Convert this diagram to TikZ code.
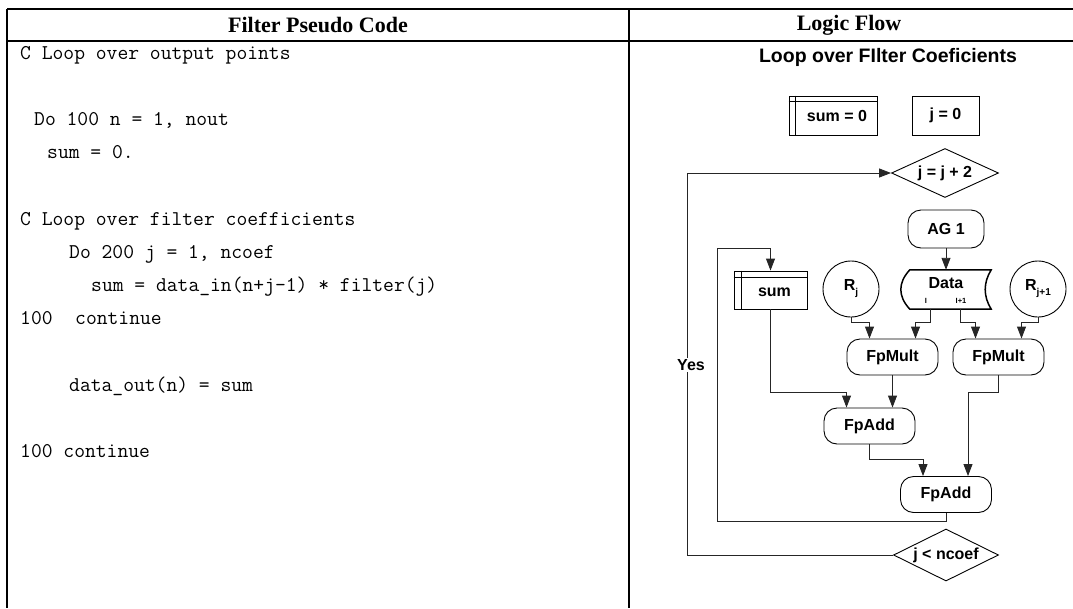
\documentclass[tikz,border=0pt]{standalone}
\usepackage{fontspec}
\setsansfont{Liberation Sans}
\newfontfamily\headfont{Liberation Serif}
\usetikzlibrary{shapes.geometric,arrows.meta}
\begin{document}
\begin{tikzpicture}[x=1pt,y=-1pt,
  rule/.style={line width=2.4pt,black},
  code/.style={anchor=base west,inner sep=0pt,font=\ttfamily\fontsize{21}{25}\selectfont},
  head/.style={inner sep=0pt,font=\headfont\bfseries\fontsize{22}{26}\selectfont},
  lbl/.style={font=\sffamily\bfseries\fontsize{16}{19}\selectfont},
  shp/.style={draw,line width=0.9pt,inner sep=0pt,lbl},
  sqbox/.style={shp,rectangle},
  rbox/.style={shp,rectangle,rounded corners=13pt,minimum width=91pt,minimum height=36pt},
  dec/.style={shp,diamond,aspect=2.2},
  reg/.style={shp,circle,minimum size=56pt},
  conn/.style={line width=0.9pt,black!85,-{Triangle[length=12pt,width=9pt]}}
]
\useasboundingbox (0,0) rectangle (1073,608);

% table rules
\draw[rule] (7,9) -- (1073,9);
\draw[rule] (7,41) -- (1073,41);
\draw[rule] (7,9) -- (7,608);
\draw[rule] (629,9) -- (629,608);

\node[head] (h1) at (318,25) {Filter Pseudo Code};
\node[head] (h2) at (849,25) {Logic Flow};

% pseudo code
\node[code] (c1) at (20,59) {C Loop over output points};
\node[code] (c2) at (34,125) {Do 100 n = 1, nout};
\node[code] (c3) at (47,158) {sum = 0.};
\node[code] (c4) at (20,225) {C Loop over filter coefficients};
\node[code] (c5) at (69,258) {Do 200 j = 1, ncoef};
\node[code] (c6) at (91,291) {sum = data\_in(n+j-1) * filter(j)};
\node[code] (c7) at (20,324.5) {100};
\node[code] (c7b) at (75,324.5) {continue};
\node[code] (c8) at (69,391) {data\_out(n) = sum};
\node[code] (c9) at (20,457.5) {100 continue};

% logic flow
\node[font=\sffamily\bfseries\fontsize{19.5}{23}\selectfont] (title) at (888,57) {Loop over FIlter Coeficients};

\node[sqbox,minimum width=88pt,minimum height=39pt] (sum0) at (833,115.5) {};
\draw[line width=0.9pt] ([xshift=7pt]sum0.north west) -- ([xshift=7pt]sum0.south west);
\draw[line width=0.9pt] ([yshift=-6pt]sum0.north west) -- ([yshift=-6pt]sum0.north east);
\node[lbl] (sum0t) at (837,116) {sum = 0};

\node[sqbox,minimum width=67pt,minimum height=39pt] (j0) at (945.5,115.5) {j = 0};

\node[dec,minimum width=107pt,minimum height=49pt] (d1) at (945,173) {j = j + 2};

\node[rbox,minimum width=76pt,minimum height=38pt] (ag1) at (946,229) {AG 1};

\node[rectangle,minimum width=90pt,minimum height=39pt,inner sep=0pt] (data) at (946,289.5) {};
\draw[line width=1.5pt] ([xshift=9pt]data.north west) -- (data.north east)
  .. controls ([xshift=-8pt,yshift=-13pt]data.north east) and ([xshift=-8pt,yshift=13pt]data.south east) .. (data.south east)
  -- ([xshift=9pt]data.south west)
  .. controls ([xshift=-3pt,yshift=13pt]data.south west) and ([xshift=-3pt,yshift=-13pt]data.north west) .. ([xshift=9pt]data.north west)
  -- cycle;
\node[lbl] (datat) at (946,283) {Data};
\node[font=\sffamily\bfseries\fontsize{7.5}{8}\selectfont] (pi) at (926,301) {I};
\node[font=\sffamily\bfseries\fontsize{7.5}{8}\selectfont] (pi1) at (961,301) {I+1};

\node[reg] (rj) at (851,289) {R\raisebox{-5pt}{\fontsize{10}{10}\selectfont j}};
\node[reg] (rj1) at (1038,289) {R\raisebox{-5pt}{\fontsize{10}{10}\selectfont j+1}};

\node[sqbox,minimum width=73pt,minimum height=38pt] (sumbox) at (770.5,290) {};
\draw[line width=0.9pt] ([xshift=8pt]sumbox.north west) -- ([xshift=8pt]sumbox.south west);
\draw[line width=0.9pt] ([yshift=-7pt]sumbox.north west) -- ([yshift=-7pt]sumbox.north east);
\node[lbl] (sumt) at (774.5,292.5) {sum};

\node[rbox] (fpm1) at (892.5,357) {FpMult};
\node[rbox] (fpm2) at (998.5,357) {FpMult};
\node[rbox] (fpa1) at (869.5,426) {FpAdd};
\node[rbox] (fpa2) at (946,494.5) {FpAdd};

\node[dec,minimum width=105pt,minimum height=52pt] (d2) at (946,555) {j < ncoef};

% helper rows and columns for the connectors
\coordinate (rowM) at (0,322);
\coordinate (rowS) at (0,392);
\coordinate (rowF) at (0,459);
\coordinate (rowL) at (0,521);
\coordinate (rowT) at (0,248);
\coordinate (colL) at (717,0);
\coordinate (colY) at (687,0);
\coordinate (m1a) at ([xshift=-23pt]fpm1.north);
\coordinate (m1b) at ([xshift=23pt]fpm1.north);
\coordinate (m2a) at ([xshift=-23pt]fpm2.north);
\coordinate (m2b) at ([xshift=23pt]fpm2.north);
\coordinate (a1a) at ([xshift=-23pt]fpa1.north);
\coordinate (a1b) at ([xshift=23pt]fpa1.north);
\coordinate (a2a) at ([xshift=-23pt]fpa2.north);
\coordinate (a2b) at ([xshift=22pt]fpa2.north);
\coordinate (dI) at ([xshift=-16pt]data.south);
\coordinate (dI1) at ([xshift=14pt]data.south);

% connectors
\draw[conn] (ag1.south) -- (data.north);
\draw[conn] (rj.south) |- (m1a |- rowM) -- (m1a);
\draw[conn] (dI) |- (m1b |- rowM) -- (m1b);
\draw[conn] (dI1) |- (m2a |- rowM) -- (m2a);
\draw[conn] (rj1.south) |- (m2b |- rowM) -- (m2b);
\draw[conn] (sumbox.south) |- (a1a |- rowS) -- (a1a);
\draw[conn] (fpm1.south) -- (a1b);
\draw[conn] (fpm2.south) |- (a2b |- rowS) -- (a2b);
\draw[conn] (fpa1.south) |- (a2a |- rowF) -- (a2a);
\draw[conn] (fpa2.south) |- (colL |- rowL) |- (sumbox.north |- rowT) -- (sumbox.north);
\draw[conn] (d2.west) -| (colY |- d1.west) -- (d1.west);
\node[lbl,fill=white,inner sep=1pt] (yes) at (691,365) {Yes};
\end{tikzpicture}
\end{document}
